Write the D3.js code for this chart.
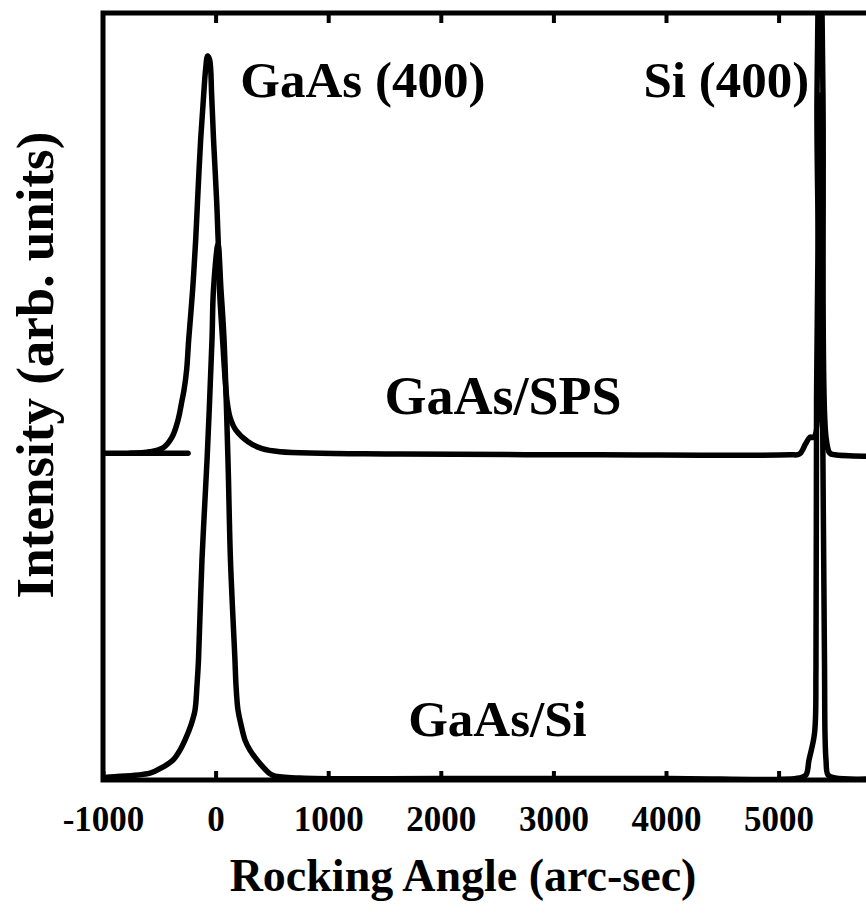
<!DOCTYPE html>
<meta charset="utf-8">
<style> /* set the CSS */

body { margin: 0; background: #fff; }
text { font-family: "Liberation Serif", "Times New Roman", serif; font-weight: bold; fill: #000; }
.trace { fill: none; stroke: #000; stroke-width: 5.5; stroke-linejoin: round; stroke-linecap: round; }

</style>
<body>

  <!-- load the d3.js library -->
  <script src="https://d3js.org/d3.v7.min.js"></script>
  <script>

    // GaAs/SPS trace (upper curve), angle in arc-sec, intensity in arb. units
    var spsAngle = [-760, -583, -467, -387, -334, -298, -281, -257, -239, -204, -177, -160, -133, -106, -89,
      -71, -53, -35, -18, 9, 27, 35, 62, 101, 128, 181, 288, 412, 572, 1640, 3413, 5098, 5186, 5239, 5279,
      5314, 5341, 5368, 5394, 5421, 5456, 5500, 5800, 6000];
    var spsIntensity = [42.6, 42.8, 43.3, 44.7, 46.9, 49.5, 50.8, 53.5, 57.4, 63.9, 70.4, 75.6, 83.4, 89.3, 92.6,
      94.4, 93.9, 89.3, 83.4, 75.6, 68.7, 63.9, 57.4, 49.5, 47.3, 45.6, 44.1, 43.2, 42.8, 42.5, 42.4, 42.4, 42.5, 43.8, 44.7,
      44.7, 89.3, 115, 89.3, 44.7, 42.6, 42.4, 42.2, 42.2];

    // short baseline piece at the left of the upper curve
    var stubAngle = [-1000, -245];
    var stubIntensity = [42.6, 42.6];

    // GaAs/Si trace (lower curve)
    var siAngle = [-1000, -931, -583, -467, -378, -316, -272, -218, -183, -165, -152, -121, -76, -32, -19, 21,
      48, 75, 110, 132, 172, 181, 199, 226, 261, 305, 368, 421, 501, 750, 2000, 4000, 5186, 5243, 5270, 5319,
      5332, 5337, 5354, 5373, 5381, 5390, 5408, 5412, 5421, 5439, 5501, 6000];
    var siIntensity = [0.3, 0.4, 0.9, 1.7, 2.6, 3.9, 5.2, 7.2, 9.1, 12.4, 15.6, 28.7, 41.7, 57.4, 63.9, 69.8,
      63.9, 57.4, 41.7, 28.7, 15.6, 12.4, 9.1, 7.2, 5.2, 3.9, 2.6, 1.7, 0.65, 0.26, 0.2, 0.2, 0.26, 0.65, 2.6, 6.1,
      14.7, 49.5, 75.6, 89.3, 75.6, 49.5, 14.7, 6.1, 2.6, 0.65, 0.26, 0.2];

    var xTicks = [-1000, 0, 1000, 2000, 3000, 4000, 5000, 6000];

    // labels inside the plot: text, angle, intensity
    var labelText = ["GaAs (400)", "Si (400)", "GaAs/SPS", "GaAs/Si"];
    var labelAngle = [220, 3800, 1500, 1710];
    var labelIntensity = [89.0, 89.0, 47.7, 5.7];

    // set the dimensions of the graph
    var W = 866, H = 915;
    var plotLeft = 103, plotTop = 13, plotBottom = 780;

    var x = d3.scaleLinear().domain([-1000, 6000]).range([plotLeft, plotLeft + 7 * 112.6]);
    var y = d3.scaleLinear().domain([0, 100]).range([plotBottom, plotTop]);

    var svg = d3.select("body").append("svg")
      .attr("width", W)
      .attr("height", H);

    svg.append("defs").append("clipPath").attr("id", "plot")
      .append("rect")
      .attr("x", x(-1000)).attr("y", y(100))
      .attr("width", x(6000) - x(-1000)).attr("height", y(0) - y(100));

    var line = d3.line()
      .x(function(d) { return x(d[0]); })
      .y(function(d) { return y(d[1]); })
      .curve(d3.curveCatmullRom.alpha(0.5));

    function pairs(a, b) { return a.map(function(v, i) { return [v, b[i]]; }); }

    var g = svg.append("g").attr("clip-path", "url(#plot)");
    g.append("path").attr("class", "trace").attr("d", line(pairs(stubAngle, stubIntensity)));
    g.append("path").attr("class", "trace").attr("d", line(pairs(spsAngle, spsIntensity)));
    g.append("path").attr("class", "trace").attr("d", line(pairs(siAngle, siIntensity)));

    // frame
    svg.append("rect")
      .attr("x", x(-1000)).attr("y", y(100))
      .attr("width", x(6000) - x(-1000)).attr("height", y(0) - y(100))
      .attr("fill", "none").attr("stroke", "#000").attr("stroke-width", 5);

    // bottom axis with inward ticks
    var xAxis = svg.append("g")
      .attr("transform", "translate(0," + plotBottom + ")")
      .call(d3.axisBottom(x).tickValues(xTicks.slice(0, 7)).tickSize(-9).tickPadding(26)
        .tickFormat(function(d) { return String(d); }));
    xAxis.select(".domain").remove();
    xAxis.selectAll("line").attr("stroke", "#000").attr("stroke-width", 4);
    xAxis.selectAll("text").attr("font-size", 35).attr("font-family", null);
    xAxis.attr("font-family", null);

    // top axis ticks only
    var tAxis = svg.append("g")
      .attr("transform", "translate(0," + plotTop + ")")
      .call(d3.axisBottom(x).tickValues(xTicks.slice(1, 7)).tickSize(10).tickFormat(""));
    tAxis.select(".domain").remove();
    tAxis.selectAll("line").attr("stroke", "#000").attr("stroke-width", 4);

    // axis titles
    svg.append("text")
      .attr("x", 463).attr("y", 891)
      .attr("text-anchor", "middle")
      .attr("font-size", 46)
      .text("Rocking Angle (arc-sec)");

    svg.append("text")
      .attr("transform", "translate(53,365) rotate(-90)")
      .attr("text-anchor", "middle")
      .attr("font-size", 53)
      .text("Intensity (arb. units)");

    // peak and sample labels
    svg.selectAll(".lab")
      .data(labelText)
      .enter().append("text")
      .attr("class", "lab")
      .attr("x", function(d, i) { return x(labelAngle[i]); })
      .attr("y", function(d, i) { return y(labelIntensity[i]); })
      .attr("font-size", function(d) { return d === "GaAs/SPS" ? 54 : 51; })
      .text(function(d) { return d; });

</script>
</body>
